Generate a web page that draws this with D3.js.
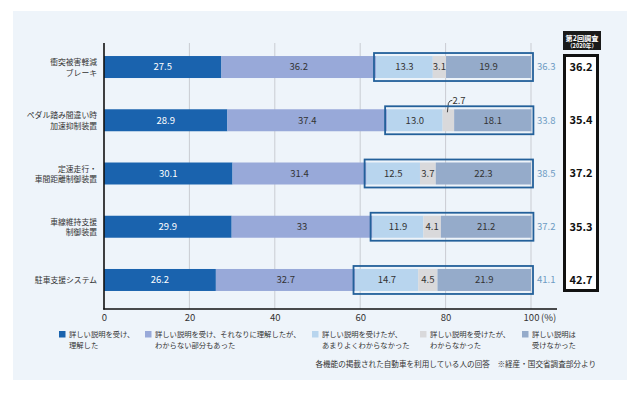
<!DOCTYPE html>
<html>
<head>
<meta charset="utf-8">
<script src="https://cdn.jsdelivr.net/npm/d3@7"></script>
<style>
  html, body { margin: 0; padding: 0; background: #fff; }
  svg { display: block; font-family: "Noto Sans CJK JP", "Noto Sans", sans-serif; }
</style>
</head>
<body>
<div id="chart"></div>
<script>
// categories (two-line labels)
const categories = [
    ['衝突被害軽減', 'ブレーキ'],
    ['ペダル踏み間違い時', '加速抑制装置'],
    ['定速走行・', '車間距離制御装置'],
    ['車線維持支援', '制御装置'],
    ['駐車支援システム']
];
const catKeys = categories.map(c => c.join(''));

// series values (%), one array per answer
const understood   = [27.5, 28.9, 30.1, 29.9, 26.2];
const partly       = [36.2, 37.4, 31.4, 33, 32.7];
const notWell      = [13.3, 13.0, 12.5, 11.9, 14.7];
const notAtAll     = [3.1, 2.7, 3.7, 4.1, 4.5];
const noExplain    = [19.9, 18.1, 22.3, 21.2, 21.9];
const seriesValues = [understood, partly, notWell, notAtAll, noExplain];

// boxed total (notWell + notAtAll + noExplain) as printed, and the 2020 survey
const boxedTotals  = [36.3, 33.8, 38.5, 37.2, 41.1];
const survey2020   = [36.2, 35.4, 37.2, 35.3, 42.7];

const seriesNames = [
    ['詳しい説明を受け、', '理解した'],
    ['詳しい説明を受け、それなりに理解したが、', 'わからない部分もあった'],
    ['詳しい説明を受けたが、', 'あまりよくわからなかった'],
    ['詳しい説明を受けたが、', 'わからなかった'],
    ['詳しい説明は', '受けなかった']
];
const seriesColors = ['#1a63ae', '#98a9d9', '#b8d5ee', '#d9d9db', '#95abca'];
const xTicks = [0, 20, 40, 60, 80, 100];

const W = 640, H = 394;
const svg = d3.select('#chart').append('svg')
    .attr('width', W).attr('height', H);

// panel background
svg.append('rect')
    .attr('x', 13).attr('y', 11).attr('width', 614).attr('height', 369)
    .attr('fill', '#eef4fa');

const x = d3.scaleLinear().domain([0, 100]).range([104, 531]);
const y = d3.scaleBand().domain(catKeys).range([40.4, 306.6])
    .paddingInner(0.587).paddingOuter(0.2935);
const bh = y.bandwidth();

// gridlines
svg.append('g').selectAll('line')
    .data(xTicks.slice(1))
    .join('line')
    .attr('x1', d => x(d)).attr('x2', d => x(d))
    .attr('y1', 43).attr('y2', 309)
    .attr('stroke', '#c9ccd2').attr('stroke-width', 1);

// stacked segments
const rows = catKeys.map((k, i) => {
    let acc = 0;
    return seriesValues.map((s, j) => {
        const seg = { key: k, row: i, series: j, v: s[i], x0: acc, x1: acc + s[i] };
        acc += s[i];
        return seg;
    });
});
const segs = rows.flat();

svg.append('g').selectAll('rect')
    .data(segs)
    .join('rect')
    .attr('x', d => x(d.x0))
    .attr('width', d => x(d.x1) - x(d.x0))
    .attr('y', d => y(d.key))
    .attr('height', bh)
    .attr('fill', d => seriesColors[d.series]);

// segment labels (row 2's small grey one is annotated above)
svg.append('g').selectAll('text')
    .data(segs.filter(d => !(d.series === 3 && d.row === 1)))
    .join('text')
    .attr('x', d => (x(d.x0) + x(d.x1)) / 2)
    .attr('y', d => y(d.key) + bh / 2)
    .attr('dy', '0.36em')
    .attr('text-anchor', 'middle')
    .attr('font-size', 9.5)
    .attr('fill', d => d.series === 0 ? '#fff' : '#333')
    .text(d => d.v.toFixed(d.v === 33 ? 0 : 1));

// callout for 2.7
const callSeg = rows[1][3];
const cx = (x(callSeg.x0) + x(callSeg.x1)) / 2;
const cy = y(callSeg.key);
svg.append('path')
    .attr('d', `M${cx - 1},${cy + 3} L${cx},${cy - 6} Q${cx + 1},${cy - 9} ${cx + 4},${cy - 9}`)
    .attr('fill', 'none').attr('stroke', '#333').attr('stroke-width', 0.9);
svg.append('text')
    .attr('x', cx + 4).attr('y', cy - 9).attr('dy', '0.36em')
    .attr('font-size', 9.5).attr('fill', '#333')
    .text(callSeg.v.toFixed(1));

// outlined box around the three "not understood" segments
svg.append('g').selectAll('rect')
    .data(rows)
    .join('rect')
    .attr('x', d => x(d[2].x0) - 2)
    .attr('y', d => y(d[0].key) - 3)
    .attr('width', d => x(d[4].x1) - x(d[2].x0) + 4)
    .attr('height', bh + 6)
    .attr('fill', 'none')
    .attr('stroke', '#23609a')
    .attr('stroke-width', 1.8);

// boxed totals
svg.append('g').selectAll('text')
    .data(boxedTotals)
    .join('text')
    .attr('x', 537)
    .attr('y', (d, i) => y(catKeys[i]) + bh / 2)
    .attr('dy', '0.36em')
    .attr('font-size', 9.5)
    .attr('fill', '#6d9bc3')
    .text(d => d.toFixed(1));

// category labels
const lineGap = 10.5;
const catG = svg.append('g').selectAll('text')
    .data(categories)
    .join('text')
    .attr('text-anchor', 'end')
    .attr('font-size', 7.8)
    .attr('fill', '#333')
    .attr('x', 97)
    .attr('y', (d, i) => y(catKeys[i]) + bh / 2 + 0.5 - (d.length - 1) * lineGap / 2);
catG.selectAll('tspan')
    .data(d => d)
    .join('tspan')
    .attr('x', 97)
    .attr('dy', (d, i) => i === 0 ? '0.36em' : lineGap)
    .text(d => d);

// axes
svg.append('line')
    .attr('x1', 104).attr('x2', 104).attr('y1', 43).attr('y2', 309.5)
    .attr('stroke', '#111').attr('stroke-width', 1.6);
svg.append('line')
    .attr('x1', 103.2).attr('x2', 557).attr('y1', 309).attr('y2', 309)
    .attr('stroke', '#111').attr('stroke-width', 1.6);

const xAxis = svg.append('g')
    .attr('transform', 'translate(0,309)')
    .call(d3.axisBottom(x).tickValues(xTicks).tickSize(0).tickPadding(5));
xAxis.select('.domain').remove();
xAxis.selectAll('text')
    .attr('font-size', 9.5)
    .attr('fill', '#333')
    .attr('font-family', '"Noto Sans CJK JP", sans-serif');
svg.append('text')
    .attr('x', 541).attr('y', 318).attr('dy', '0.36em')
    .attr('font-size', 9.5).attr('fill', '#333')
    .text('(%)');

// 2020 survey column
svg.append('rect')
    .attr('x', 564.5).attr('y', 55.5).attr('width', 33).attr('height', 235)
    .attr('fill', '#fff').attr('stroke', '#111').attr('stroke-width', 3);
svg.append('rect')
    .attr('x', 563).attr('y', 31).attr('width', 38).attr('height', 19)
    .attr('fill', '#1a1a1a');
svg.append('text')
    .attr('x', 582).attr('y', 40.5)
    .attr('text-anchor', 'middle').attr('font-size', 7.2).attr('font-weight', 'bold')
    .attr('fill', '#fff').text('第2回調査');
svg.append('text')
    .attr('x', 582).attr('y', 47.5)
    .attr('text-anchor', 'middle').attr('font-size', 5.6).attr('font-weight', 'bold')
    .attr('fill', '#fff').text('（2020年）');
svg.append('g').selectAll('text')
    .data(survey2020)
    .join('text')
    .attr('x', 581)
    .attr('y', (d, i) => y(catKeys[i]) + bh / 2)
    .attr('dy', '0.36em')
    .attr('text-anchor', 'middle')
    .attr('font-size', 11)
    .attr('font-weight', 'bold')
    .attr('fill', '#111')
    .text(d => d.toFixed(1));

// legend
const legendX = [59, 145, 312, 420, 522];
const leg = svg.append('g').selectAll('g')
    .data(seriesNames)
    .join('g')
    .attr('transform', (d, i) => `translate(${legendX[i]},331)`);
leg.append('rect')
    .attr('width', 6.5).attr('height', 6.5)
    .attr('fill', (d, i) => seriesColors[i]);
leg.append('text')
    .attr('font-size', 7.3)
    .attr('fill', '#333')
    .selectAll('tspan')
    .data(d => d)
    .join('tspan')
    .attr('x', 10)
    .attr('y', (d, i) => 6.3 + i * 10.2)
    .text(d => d);

// footnote
svg.append('text')
    .attr('x', 596).attr('y', 366.5)
    .attr('text-anchor', 'end')
    .attr('font-size', 7.6).attr('fill', '#333')
    .text('各機能の掲載された自動車を利用している人の回答　※経産・国交省調査部分より');
</script>
</body>
</html>
